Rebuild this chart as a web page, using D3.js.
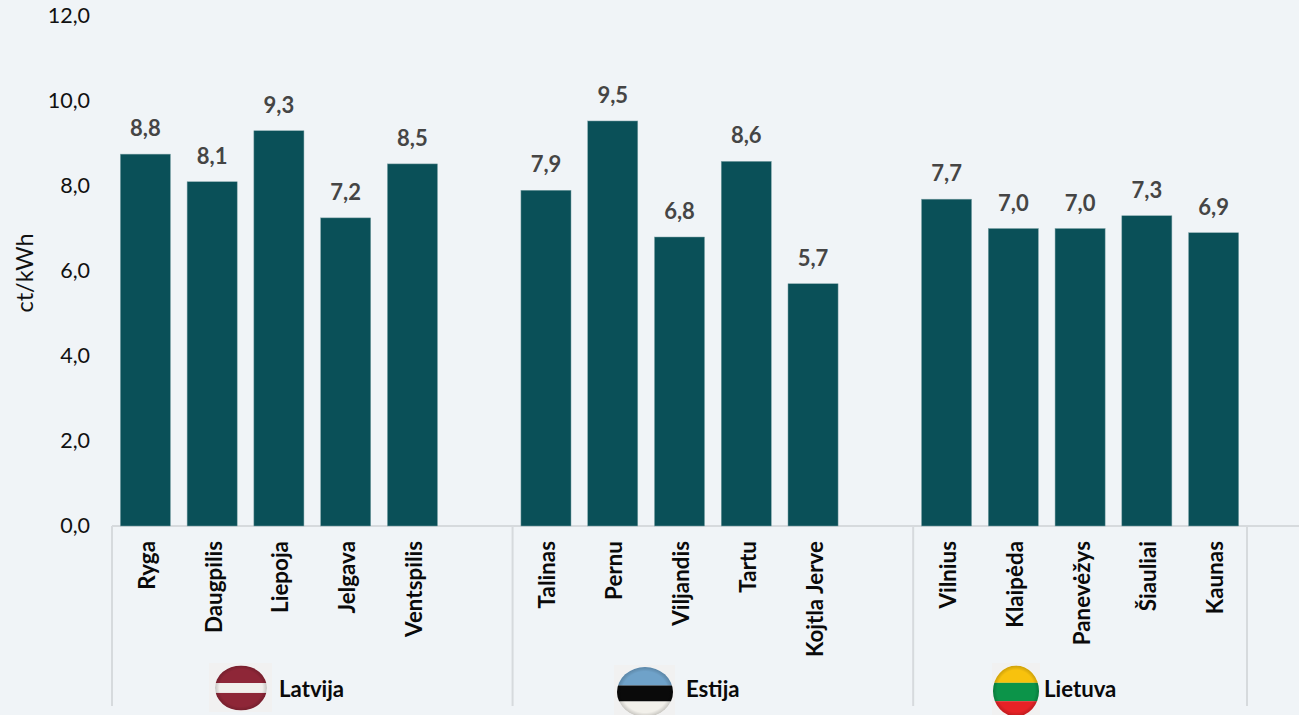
<!DOCTYPE html>
<html>
<head>
  <meta charset="utf-8">
  <title>ct/kWh</title>
  <style>
    html, body { margin: 0; padding: 0; background: #f0f4f7; }
    svg { display: block; font-family: Lato, "Open Sans", sans-serif; }
    .domain { display: none; }
    .tick line { display: none; }
  </style>
</head>
<body>
  <svg id="chart" width="1299" height="715"></svg>

  <script src="https://d3js.org/d3.v7.min.js"></script>
  <script>
    // values, blank slots separate the countries
    const cities = ["Ryga", "Daugpilis", "Liepoja", "Jelgava", "Ventspilis", "",
      "Talinas", "Pernu", "Viljandis", "Tartu", "Kojtla Jerve", " ",
      "Vilnius", "Klaipėda", "Panevėžys", "Šiauliai", "Kaunas"];
    const prices = [8.75, 8.1, 9.3, 7.25, 8.52, null,
      7.9, 9.53, 6.8, 8.58, 5.7, null,
      7.69, 7.0, 7.0, 7.3, 6.9];
    const labels = ["8,8", "8,1", "9,3", "7,2", "8,5", "",
      "7,9", "9,5", "6,8", "8,6", "5,7", "",
      "7,7", "7,0", "7,0", "7,3", "6,9"];
    const yTicks = [0, 2, 4, 6, 8, 10, 12];

    const countries = ["Latvija", "Estija", "Lietuva"];
    const countryStart = [0, 6, 12];   // first slot of each country
    const flagStripes = [
      ["#8e2637", "#f1efec", "#8e2637"],
      ["#6fa2c9", "#0a0a0a", "#f2f0ea"],
      ["#f8c20d", "#0c9449", "#e72226"]
    ];
    const flagBands = [[0, 0.39, 0.61, 1], [0, 0.37, 0.69, 1], [0, 0.34, 0.70, 1]];

    const svg = d3.select("#chart");
    const x0 = 112, x1 = 1247, yBase = 526, yTop = 16, yEnd = 706;

    const x = d3.scaleBand().domain(d3.range(cities.length)).range([x0, x1]).paddingInner(0.25).paddingOuter(0.125);
    const y = d3.scaleLinear().domain([0, 12]).range([yBase, yTop]);
    const slot = (x1 - x0) / cities.length;

    // y axis
    svg.append("g")
      .attr("transform", `translate(${x0},0)`)
      .call(d3.axisLeft(y).tickValues(yTicks).tickSize(0).tickPadding(22).tickFormat(d => d3.format(".1f")(d).replace(".", ",")))
      .call(g => g.selectAll("text").attr("font-size", 21.5).attr("font-family", "Lato").attr("fill", "#111"));

    svg.append("text")
      .attr("transform", `translate(33,273) rotate(-90)`)
      .attr("text-anchor", "middle")
      .attr("font-size", 23.5)
      .attr("fill", "#111")
      .text("ct/kWh");

    // axis lines
    const lineColor = "#d6dadd";
    svg.append("line").attr("x1", x0).attr("x2", 1299).attr("y1", yBase).attr("y2", yBase)
      .attr("stroke", lineColor).attr("stroke-width", 2);
    svg.selectAll(".sep")
      .data(countryStart.concat([cities.length]))
      .join("line")
      .attr("class", "sep")
      .attr("x1", d => x0 + d * slot).attr("x2", d => x0 + d * slot)
      .attr("y1", yBase).attr("y2", yEnd)
      .attr("stroke", lineColor).attr("stroke-width", 2);

    // bars
    const rows = cities.map((c, i) => ({ i, c, v: prices[i], l: labels[i] })).filter(d => d.v !== null);

    svg.selectAll(".bar")
      .data(rows)
      .join("rect")
      .attr("class", "bar")
      .attr("x", d => x(d.i))
      .attr("width", x.bandwidth())
      .attr("y", d => y(d.v))
      .attr("height", d => yBase - y(d.v))
      .attr("fill", "#0a5058")
      .attr("stroke", "#7fa3a8")
      .attr("stroke-width", 0.5);

    svg.selectAll(".val")
      .data(rows)
      .join("text")
      .attr("class", "val")
      .attr("x", d => x(d.i) + x.bandwidth() / 2)
      .attr("y", d => y(d.v) - 18)
      .attr("text-anchor", "middle")
      .attr("font-size", 22)
      .attr("font-weight", 700)
      .attr("fill", "#454545")
      .text(d => d.l);

    svg.selectAll(".cat")
      .data(rows)
      .join("text")
      .attr("class", "cat")
      .attr("transform", d => `translate(${x(d.i) + x.bandwidth() / 2 + 9.5},541) rotate(-90)`)
      .attr("text-anchor", "end")
      .attr("font-size", 22.4)
      .attr("font-weight", 700)
      .attr("fill", "#0a0a0a")
      .text(d => d.c);

    // flags: striped ellipses with a soft dark rim on a pale square
    const flagBox = [
      { cx: 241, cy: 688, rx: 26, ry: 22.5, tx: 279, bx: 209, bw: 63, by: 663, bh: 49 },
      { cx: 645, cy: 692, rx: 28, ry: 25, tx: 686, bx: 614, bw: 61, by: 665, bh: 50 },
      { cx: 1016, cy: 691, rx: 23, ry: 25.5, tx: 1044, bx: 992, bw: 48, by: 663, bh: 52 }
    ];
    const defs = svg.append("defs");
    const rim = defs.append("radialGradient").attr("id", "rim");
    rim.append("stop").attr("offset", "82%").attr("stop-color", "#000").attr("stop-opacity", 0);
    rim.append("stop").attr("offset", "100%").attr("stop-color", "#000").attr("stop-opacity", 0.18);

    countries.forEach((name, k) => {
      const b = flagBox[k];
      svg.append("rect").attr("x", b.bx).attr("y", b.by).attr("width", b.bw).attr("height", b.bh).attr("fill", "#f1f1f1");
      defs.append("clipPath").attr("id", `flag${k}`)
        .append("ellipse").attr("cx", b.cx).attr("cy", b.cy).attr("rx", b.rx).attr("ry", b.ry);
      const g = svg.append("g").attr("clip-path", `url(#flag${k})`);
      const fy = d3.scaleLinear().domain([0, 1]).range([b.cy - b.ry, b.cy + b.ry]);
      flagStripes[k].forEach((col, s) => {
        g.append("rect").attr("x", b.cx - b.rx).attr("width", 2 * b.rx)
          .attr("y", fy(flagBands[k][s])).attr("height", fy(flagBands[k][s + 1]) - fy(flagBands[k][s]))
          .attr("fill", col);
      });
      g.append("ellipse").attr("cx", b.cx).attr("cy", b.cy).attr("rx", b.rx).attr("ry", b.ry).attr("fill", "url(#rim)");
      svg.append("text").attr("x", b.tx).attr("y", 697)
        .attr("font-size", 22.2).attr("font-weight", 700).attr("fill", "#0a0a0a").text(name);
    });
  </script>
</body>
</html>
